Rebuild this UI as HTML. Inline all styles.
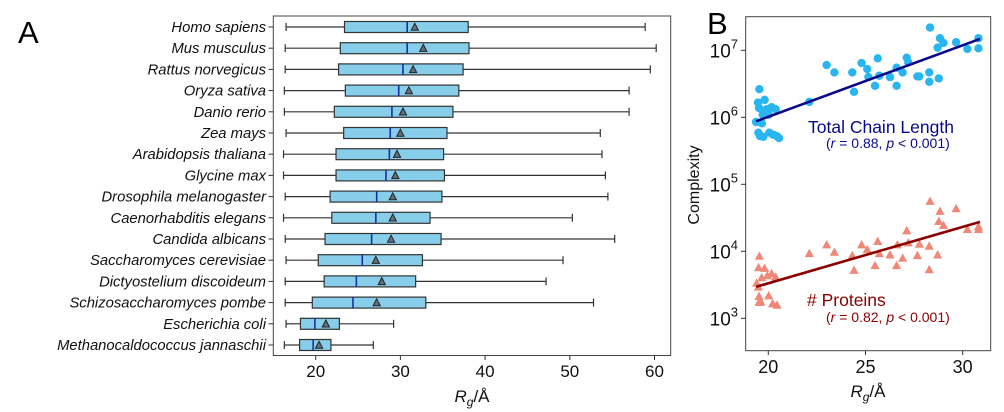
<!DOCTYPE html>
<html><head><meta charset="utf-8">
<style>
html,body{margin:0;padding:0;background:#fff;width:1004px;height:412px;overflow:hidden}
svg{display:block;font-family:"Liberation Sans",sans-serif}
</style></head>
<body>
<svg id="chart" width="1004" height="412" viewBox="0 0 1004 412" xmlns="http://www.w3.org/2000/svg"></svg>
<script>
// ---- Panel A data ----
const species = ["Homo sapiens","Mus musculus","Rattus norvegicus","Oryza sativa","Danio rerio","Zea mays","Arabidopsis thaliana","Glycine max","Drosophila melanogaster","Caenorhabditis elegans","Candida albicans","Saccharomyces cerevisiae","Dictyostelium discoideum","Schizosaccharomyces pombe","Escherichia coli","Methanocaldococcus jannaschii"];
const whiskLo = [16.5,16.4,16.4,16.3,16.3,16.5,16.2,16.2,16.4,16.2,16.4,16.5,16.4,16.4,16.5,16.3];
const q1 = [23.4,22.9,22.7,23.5,22.2,23.3,22.4,22.4,21.7,21.9,21.1,20.3,21.0,19.6,18.2,18.1];
const medians = [30.8,30.8,30.3,29.8,29.0,28.8,28.7,28.3,27.2,27.1,26.6,25.5,24.8,24.4,19.9,19.7];
const means = [31.7,32.7,31.5,31.0,30.3,30.0,29.6,29.4,29.1,29.1,28.9,27.1,27.8,27.2,21.2,20.4];
const q3 = [38.0,38.1,37.4,36.9,36.2,35.5,35.1,35.2,34.9,33.5,34.8,32.6,31.8,33.0,22.8,21.8];
const whiskHi = [58.9,60.2,59.5,57.0,57.0,53.6,53.8,54.2,54.5,50.3,55.3,49.2,47.2,52.8,29.2,26.8];
const xTicksA = [20,30,40,50,60];
// ---- Panel B data ----
const chainRg = [19.54,19.47,19.81,19.52,19.71,19.91,20.17,20.38,20.02,19.37,19.49,19.57,19.74,20.05,20.26,20.43,20.55,19.67,22.11,23.00,23.40,24.32,24.41,24.80,25.09,25.15,25.49,25.63,25.71,26.26,26.60,26.60,26.91,27.12,27.20,27.67,27.77,28.28,28.28,28.32,28.71,28.77,28.83,29.01,29.66,30.24,30.81,30.81];
const chainLog = [6.42,6.22,6.26,6.14,6.04,6.12,6.15,6.12,6.04,5.93,5.77,5.72,5.71,5.77,5.74,5.72,5.69,5.91,6.23,6.78,6.67,6.67,6.38,6.81,6.72,6.60,6.47,6.88,6.62,6.60,6.74,6.47,6.67,6.89,6.82,6.61,6.61,6.67,6.53,7.34,7.04,6.58,7.18,7.11,7.12,7.02,7.18,7.03];
const protRg = [19.54,19.50,19.81,19.66,19.95,20.17,20.38,19.40,19.49,19.52,19.62,19.52,20.02,20.22,20.45,22.11,23.00,23.40,24.32,24.41,24.80,25.09,25.49,25.63,25.71,26.26,26.60,26.64,26.91,27.12,27.20,27.67,27.77,28.28,28.28,28.32,28.71,28.77,28.83,29.01,29.66,30.24,30.81,30.81];
const protLog = [3.93,3.76,3.75,3.61,3.64,3.67,3.62,3.53,3.47,3.33,3.25,3.24,3.34,3.22,3.20,3.97,4.10,3.99,3.94,3.72,4.10,4.03,3.79,4.15,3.97,3.95,3.79,4.10,3.90,4.31,4.13,3.94,4.11,4.08,3.73,4.75,3.95,4.45,4.60,4.39,4.64,4.33,4.33,4.37];
const chainFit = [[19.37,5.94],[30.89,7.17]];
const protFit = [[19.37,3.47],[30.89,4.44]];
const yTicksB = [3,4,5,6,7];
const xTicksB = [20,25,30];

const NS="http://www.w3.org/2000/svg";
const svg=document.getElementById('chart');
function el(tag,attrs,parent){const e=document.createElementNS(NS,tag);for(const k in attrs)e.setAttribute(k,attrs[k]);(parent||svg).appendChild(e);return e;}

// Panel A scales
const xA=v=>315.7+(v-20)*8.47;
const yA=i=>27+i*21.2;
const gA=el('g',{});


let t=el('text',{x:18,y:43,'font-size':31},gA);t.textContent='A';


const frameA=el('rect',{x:273.3,y:16,width:397.4,height:339.5,fill:'none',stroke:'#444','stroke-width':1},gA);


species.forEach((s,i)=>{
  const y=yA(i);
  const g=el('g',{},gA);
  
  
  el('line',{x1:268.5,x2:273.3,y1:y,y2:y,stroke:'#333'},g);
  const lb=el('text',{x:266,y:y+5,'font-size':14.8,'font-style':'italic','text-anchor':'end',fill:'#111'},g);
  lb.textContent=s;
  
  
  el('line',{x1:xA(whiskLo[i]),x2:xA(q1[i]),y1:y,y2:y,stroke:'#333','stroke-width':1.2},g);
  el('line',{x1:xA(q3[i]),x2:xA(whiskHi[i]),y1:y,y2:y,stroke:'#333','stroke-width':1.2},g);
  el('line',{x1:xA(whiskLo[i]),x2:xA(whiskLo[i]),y1:y-4,y2:y+4,stroke:'#333','stroke-width':1.2},g);
  el('line',{x1:xA(whiskHi[i]),x2:xA(whiskHi[i]),y1:y-4,y2:y+4,stroke:'#333','stroke-width':1.2},g);
  el('rect',{x:xA(q1[i]),y:y-5.5,width:xA(q3[i])-xA(q1[i]),height:11,fill:'#87ceeb',stroke:'#333','stroke-width':1.2},g);
  el('line',{x1:xA(medians[i]),x2:xA(medians[i]),y1:y-5.5,y2:y+5.5,stroke:'#1a2fa0','stroke-width':1.6},g);
  const mx=xA(means[i]);
  el('polygon',{points:`${mx-3.6},${y+3.2} ${mx+3.6},${y+3.2} ${mx},${y-3.8}`,fill:'#607080',stroke:'#222','stroke-width':1},g);
});
xTicksA.forEach(v=>{
  el('line',{x1:xA(v),x2:xA(v),y1:355.5,y2:360,stroke:'#333'},gA);
  const tt=el('text',{x:xA(v),y:377,'font-size':17,'text-anchor':'middle',fill:'#111'},gA);
  tt.textContent=v;
  
  
});
const xtA=el('text',{x:472,y:402,'font-size':17,'text-anchor':'middle',fill:'#111'},gA);
xtA.innerHTML='<tspan font-style="italic">R</tspan><tspan font-style="italic" font-size="12" dy="4">g</tspan><tspan dy="-4">/Å</tspan>';



// Panel B scales
const xB=v=>768.3+(v-20)*19.44;
const yB=l=>318.3-(l-3)*67.0;
const gB=el('g',{});


t=el('text',{x:707,y:34,'font-size':31},gB);t.textContent='B';


const frameB=el('rect',{x:745.7,y:16.7,width:245,height:334,fill:'none',stroke:'#444','stroke-width':1},gB);


yTicksB.forEach(p=>{
  const y=yB(p);
  el('line',{x1:741,x2:745.7,y1:y,y2:y,stroke:'#333'},gB);
  const tt=el('text',{x:738,y:y+7,'font-size':19,'text-anchor':'end',fill:'#111'},gB);
  tt.innerHTML='10<tspan font-size="13" dy="-9">'+p+'</tspan>';
  
  
});
xTicksB.forEach(v=>{
  el('line',{x1:xB(v),x2:xB(v),y1:350.7,y2:355,stroke:'#333'},gB);
  const tt=el('text',{x:xB(v),y:373,'font-size':18,'text-anchor':'middle',fill:'#111'},gB);
  tt.textContent=v;
  
  
});
const ytB=el('text',{x:0,y:0,'font-size':16,'text-anchor':'middle',fill:'#111',transform:'translate(699,185) rotate(-90)'},gB);
ytB.textContent='Complexity';


const xtB=el('text',{x:868,y:397,'font-size':17,'text-anchor':'middle',fill:'#111'},gB);
xtB.innerHTML='<tspan font-style="italic">R</tspan><tspan font-style="italic" font-size="12" dy="4">g</tspan><tspan dy="-4">/Å</tspan>';



chainRg.forEach((x,i)=>{
  const c=el('circle',{cx:xB(x),cy:yB(chainLog[i]),r:4.2,fill:'#29b6f0'},gB);
  
  
});
protRg.forEach((x,i)=>{
  const cx=xB(x),cy=yB(protLog[i]);
  const p=el('polygon',{points:`${cx-4.6},${cy+3.8} ${cx+4.6},${cy+3.8} ${cx},${cy-4.6}`,fill:'#f08878'},gB);
  
  
});
const l1=el('line',{x1:xB(chainFit[0][0]),y1:yB(chainFit[0][1]),x2:xB(chainFit[1][0]),y2:yB(chainFit[1][1]),stroke:'#0a0a8a','stroke-width':2.6},gB);


const l2=el('line',{x1:xB(protFit[0][0]),y1:yB(protFit[0][1]),x2:xB(protFit[1][0]),y2:yB(protFit[1][1]),stroke:'#8b0000','stroke-width':2.6},gB);



let a=el('text',{x:808,y:133,'font-size':17.5,fill:'#0a0a8a'},gB);a.textContent='Total Chain Length';


a=el('text',{x:826,y:148,'font-size':14,fill:'#0a0a8a'},gB);
a.innerHTML='(<tspan font-style="italic">r</tspan> = 0.88, <tspan font-style="italic">p</tspan> &lt; 0.001)';


a=el('text',{x:807,y:306,'font-size':17.5,fill:'#8b0000'},gB);a.textContent='# Proteins';


a=el('text',{x:826,y:322,'font-size':14,fill:'#8b0000'},gB);
a.innerHTML='(<tspan font-style="italic">r</tspan> = 0.82, <tspan font-style="italic">p</tspan> &lt; 0.001)';


</script>
</body></html>
